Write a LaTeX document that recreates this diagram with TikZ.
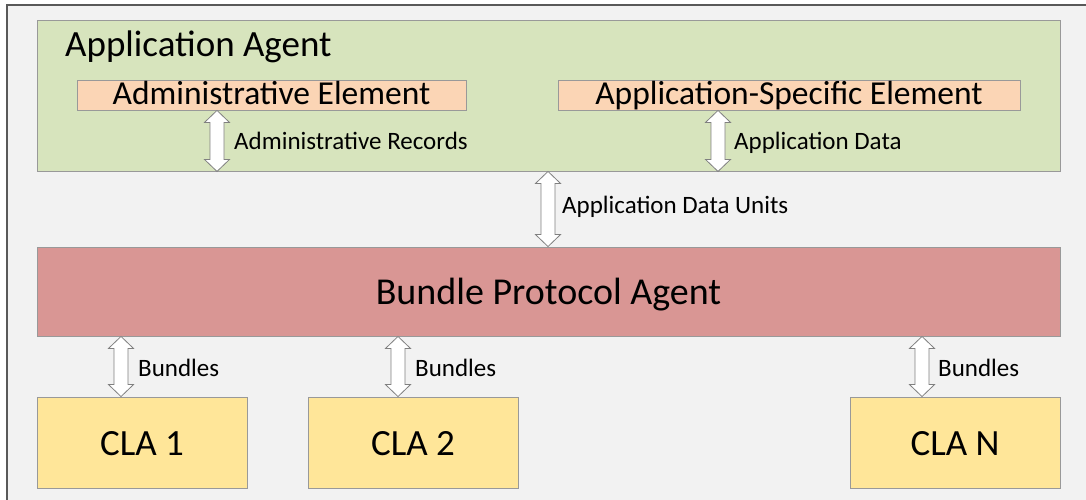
\documentclass[tikz,border=0pt]{standalone}
\usepackage{fontspec}
\setmainfont{Carlito}
\usetikzlibrary{calc}
\definecolor{bgc}{HTML}{F2F2F2}
\definecolor{greenc}{HTML}{D7E4BD}
\definecolor{peachc}{HTML}{FBD5B5}
\definecolor{redc}{HTML}{D99694}
\definecolor{yellowc}{HTML}{FFE699}
\definecolor{framec}{HTML}{595959}
\tikzset{
  box/.style={draw=black!40, line width=0.9pt, inner sep=0pt},
  elem/.style={box, fill=peachc, minimum height=30pt, text height=25pt, text depth=5pt,
    font=\fontsize{33.5pt}{38pt}\selectfont},
  cla/.style={box, fill=yellowc, minimum width=210pt, minimum height=91pt, text height=58pt, text depth=33pt,
    font=\fontsize{37pt}{42pt}\selectfont},
  lbl/.style={anchor=base west, inner sep=0pt, font=\fontsize{25pt}{28pt}\selectfont},
  dbl/.style={draw=black!50, fill=white, line width=0.8pt, line join=miter,
    to path={let \p1=(\tikztostart), \p2=(\tikztotarget) in
      (\x1,\y1) -- (\x1+12.5pt,\y1-12pt) -- (\x1+7pt,\y1-12pt) -- (\x1+7pt,\y2+12pt)
      -- (\x1+12.5pt,\y2+12pt) -- (\x1,\y2) -- (\x1-12.5pt,\y2+12pt) -- (\x1-7pt,\y2+12pt)
      -- (\x1-7pt,\y1-12pt) -- (\x1-12.5pt,\y1-12pt) -- cycle}}
}
\begin{document}
\begin{tikzpicture}[x=1pt,y=-1pt]
\useasboundingbox (0,0) rectangle (1086,500);
\fill[bgc] (7,5) rectangle (1086,500);
\draw[framec, line width=1.5pt] (7,500) -- (7,5) -- (1086,5);

% Application agent
\node[box, fill=greenc, minimum width=1023pt, minimum height=151pt] (aa) at (548.5,95.5) {};
\node[anchor=base west, inner sep=0pt, font=\fontsize{37pt}{42pt}\selectfont] (aat) at (65,57) {Application Agent};
\node[elem, minimum width=389pt] (ae) at (271.5,95) {Administrative Element};
\node[elem, minimum width=462pt] (ase) at (789,95) {Application-Specific Element};

% Bundle protocol agent
\node[box, fill=redc, minimum width=1023pt, minimum height=89pt, text height=57pt, text depth=32pt,
  font=\fontsize{38pt}{42pt}\selectfont] (bpa) at (548.5,291.5) {Bundle Protocol Agent};

% CLAs
\node[cla] (c1) at (142,442.5) {CLA 1};
\node[cla] (c2) at (413,442.5) {CLA 2};
\node[cla] (cn) at (955,442.5) {CLA N};

% arrows
\draw[dbl] (ae.south -| 217,0) to (aa.south -| 217,0);
\draw[dbl] (ase.south -| 718,0) to (aa.south -| 718,0);
\draw[dbl] (aa.south -| 548,0) to (bpa.north -| 548,0);
\draw[dbl] (bpa.south -| 121,0) to (c1.north -| 121,0);
\draw[dbl] (bpa.south -| 398,0) to (c2.north -| 398,0);
\draw[dbl] (bpa.south -| 922,0) to (cn.north -| 922,0);

% labels
\node[lbl] (l1) at (234,149) {Administrative Records};
\node[lbl] (l2) at (734,149) {Application Data};
\node[lbl] (l3) at (562,213) {Application Data Units};
\node[lbl] (l4) at (138,376) {Bundles};
\node[lbl] (l5) at (415,376) {Bundles};
\node[lbl] (l6) at (938,376) {Bundles};
\end{tikzpicture}
\end{document}
